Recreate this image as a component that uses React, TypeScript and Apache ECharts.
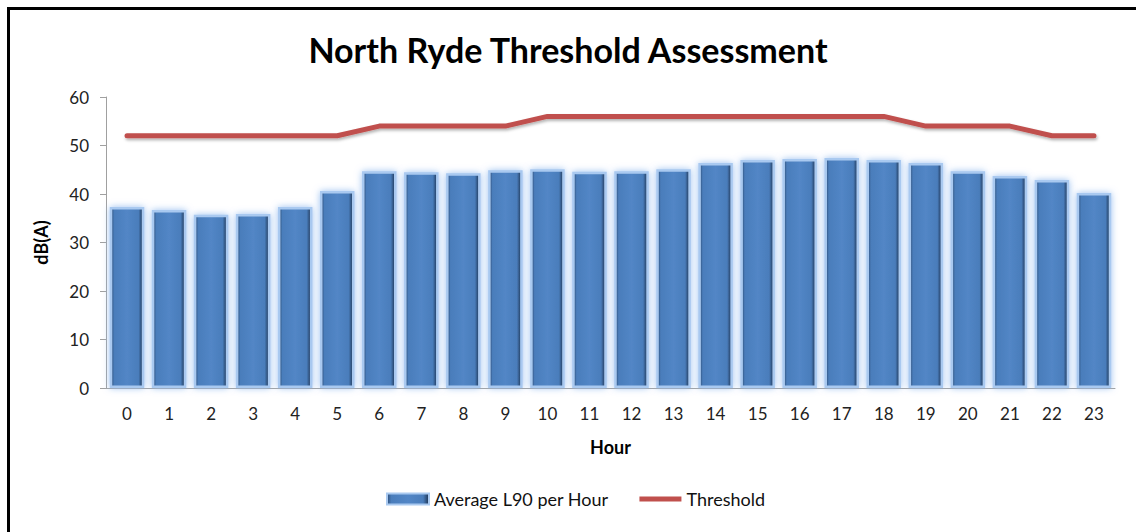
import React, { useEffect, useRef } from "react";
import * as echarts from "echarts";

const hours = ["0","1","2","3","4","5","6","7","8","9","10","11","12","13","14","15","16","17","18","19","20","21","22","23"];
const avgL90 = [37.3, 36.7, 35.7, 35.9, 37.3, 40.6, 44.7, 44.5, 44.3, 44.9, 45.1, 44.6, 44.7, 45.1, 46.4, 47.0, 47.2, 47.4, 47.0, 46.4, 44.7, 43.7, 42.9, 40.2];
const threshold = [52, 52, 52, 52, 52, 52, 54, 54, 54, 54, 56, 56, 56, 56, 56, 56, 56, 56, 56, 54, 54, 54, 52, 52];
const yTicks = [0, 10, 20, 30, 40, 50, 60];

const FONT = "Lato, 'Open Sans', sans-serif";

export default function App() {
  const ref = useRef<HTMLDivElement>(null);
  useEffect(() => {
    if (!ref.current) return;
    const chart = echarts.init(ref.current, null, { renderer: "svg" });
    const barGrad = new echarts.graphic.LinearGradient(0, 0, 1, 0, [
      { offset: 0, color: "#2b4a72" },
      { offset: 0.1, color: "#4a7dbb" },
      { offset: 0.5, color: "#5286c6" },
      { offset: 0.86, color: "#4a7dbb" },
      { offset: 1, color: "#1c3250" },
    ]);
    chart.setOption({
      animation: false,
      backgroundColor: "#ffffff",
      textStyle: { fontFamily: FONT },
      title: {
        text: "North Ryde Threshold Assessment",
        left: "center",
        top: 27,
        textStyle: { fontFamily: FONT, fontSize: 34, fontWeight: "bold", color: "#000" },
      },
      graphic: [
        {
          type: "rect",
          shape: { x: 8.5, y: 8.5, width: 1200, height: 600 },
          style: { fill: "none", stroke: "#000", lineWidth: 3 },
          silent: true,
          z: 100,
        },
      ],
      legend: {
        bottom: 19,
        left: 381,
        itemGap: 31,
        itemWidth: 42,
        itemHeight: 11,
        textStyle: { fontFamily: FONT, fontSize: 18, color: "#111" },
        data: [
          { name: "Average L90 per Hour", icon: "rect" },
          { name: "Threshold", icon: "path://M0,0 L42,0 L42,5 L0,5 Z" },
        ],
      },
      grid: { left: 106, right: 21, top: 97, bottom: 144, containLabel: false },
      xAxis: {
        type: "category",
        data: hours,
        name: "Hour",
        nameLocation: "middle",
        nameGap: 50,
        nameTextStyle: { fontFamily: FONT, fontSize: 18, fontWeight: "bold", color: "#000" },
        axisLine: { lineStyle: { color: "#a0a0a0", width: 1 } },
        axisTick: { show: false },
        axisLabel: { fontFamily: FONT, fontSize: 17, color: "#222", margin: 17 },
      },
      yAxis: {
        type: "value",
        min: yTicks[0],
        max: yTicks[yTicks.length - 1],
        interval: 10,
        name: "dB(A)",
        nameLocation: "middle",
        nameGap: 56,
        nameRotate: 90,
        nameTextStyle: { fontFamily: FONT, fontSize: 18, fontWeight: "bold", color: "#000" },
        axisLine: { show: true, lineStyle: { color: "#a0a0a0", width: 1 } },
        axisTick: { show: true, length: 6, lineStyle: { color: "#a0a0a0" } },
        splitLine: { show: false },
        axisLabel: { fontFamily: FONT, fontSize: 17, color: "#222", margin: 17 },
      },
      series: [
        {
          name: "Average L90 per Hour",
          type: "bar",
          data: avgL90,
          barCategoryGap: "18%",
          itemStyle: {
            color: barGrad,
            borderColor: "#a9c9f0",
            borderWidth: 2.5,
            shadowColor: "rgba(150,190,240,0.95)",
            shadowBlur: 7,
          },
        },
        {
          name: "Threshold",
          type: "line",
          data: threshold,
          symbol: "none",
          lineStyle: {
            color: "#c0504d",
            width: 5,
            cap: "round",
            shadowColor: "rgba(0,0,0,0.3)",
            shadowBlur: 3,
            shadowOffsetX: 1,
            shadowOffsetY: 2,
          },
          itemStyle: { color: "#c0504d" },
          z: 5,
        },
      ],
    });
    return () => chart.dispose();
  }, []);
  return (
    <div
      ref={ref}
      style={{ position: "fixed", left: 0, top: 0, width: 1136, height: 532 }}
    />
  );
}
